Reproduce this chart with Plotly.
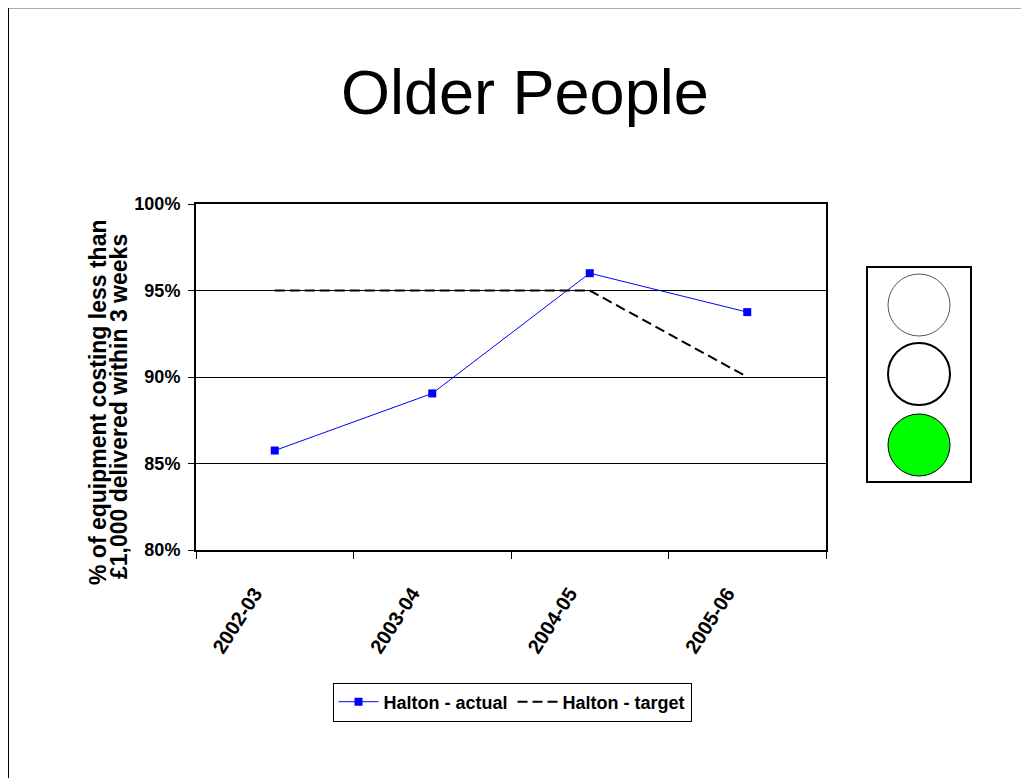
import plotly.graph_objects as go

categories = ["2002-03", "2003-04", "2004-05", "2005-06"]
actual = [85.75, 89.05, 96.0, 93.75]
target = [95.0, 95.0, 95.0, 90.0]
y_ticks = [80, 85, 90, 95, 100]
y_tick_labels = ["80%", "85%", "90%", "95%", "100%"]

OFF = 8  # page body margin
W, H = 1029 - OFF, 778 - OFF
L, R, T, B = 196 - OFF, 826 - OFF, 204 - OFF, 550 - OFF
FONT = "Liberation Sans, Arial, sans-serif"


def px(x):
    # page x -> paper
    return (x - OFF - L) / (R - L)


def py(y):
    # page y -> paper
    return (B - (y - OFF)) / (B - T)


fig = go.Figure()
fig.add_trace(go.Scatter(
    x=categories, y=actual, name="Halton - actual", mode="lines+markers",
    line=dict(color="#0000FF", width=1),
    marker=dict(symbol="square", size=8, color="#0000FF"),
))
fig.add_trace(go.Scatter(
    x=categories, y=target, name="Halton - target", mode="lines",
    line=dict(color="#000000", width=2, dash="10px,5px"),
))

shapes = []
# slide frame (clipped to figure edge)
shapes.append(dict(type="line", xref="paper", yref="paper", x0=px(8), x1=px(1029), y0=py(8.5), y1=py(8.5),
                   line=dict(color="#AAAAAA", width=1)))
shapes.append(dict(type="line", xref="paper", yref="paper", x0=px(8.5), x1=px(8.5), y0=py(8), y1=py(778),
                   line=dict(color="#000000", width=1)))
# traffic light
shapes.append(dict(type="rect", xref="paper", yref="paper", x0=px(867), x1=px(971), y0=py(267), y1=py(482),
                   line=dict(color="#000000", width=2), fillcolor="white"))
circles = [(305, "white", "#555555", 1), (374, "white", "#000000", 2), (445, "#00FF00", "#000000", 1)]
for cy, fill, lc, lw in circles:
    shapes.append(dict(type="circle", xref="paper", yref="paper",
                       x0=px(919 - 31), x1=px(919 + 31), y0=py(cy - 31), y1=py(cy + 31),
                       fillcolor=fill, line=dict(color=lc, width=lw)))

annotations = [
    dict(text="Older People", xref="paper", yref="paper", x=px(525), y=py(92),
         showarrow=False, font=dict(family=FONT, size=63, color="black"),
         xanchor="center", yanchor="middle"),
    dict(text="<b>% of equipment costing less than</b>",
         xref="paper", yref="paper", x=px(98), y=py(403), textangle=-90,
         showarrow=False, font=dict(family=FONT, size=23, color="black"),
         xanchor="center", yanchor="middle"),
    dict(text="<b>£1,000 delivered within 3 weeks</b>",
         xref="paper", yref="paper", x=px(119), y=py(407), textangle=-90,
         showarrow=False, font=dict(family=FONT, size=23, color="black"),
         xanchor="center", yanchor="middle"),
]

fig.update_layout(
    width=W, height=H,
    margin=dict(l=L, r=W - R, t=T, b=H - B, pad=0),
    paper_bgcolor="white", plot_bgcolor="white",
    font=dict(family=FONT, color="black"),
    showlegend=True,
    legend=dict(orientation="h", x=px(512), y=py(702), xanchor="center", yanchor="middle",
                bordercolor="black", borderwidth=1, bgcolor="white",
                font=dict(family=FONT, size=18, color="black", weight="bold"),
                itemwidth=40, tracegroupgap=0),
    shapes=shapes,
    annotations=annotations,
)
fig.update_xaxes(
    type="category", range=[-0.5, 3.5], tickson="boundaries",
    ticks="outside", ticklen=7, tickcolor="black", tickwidth=1,
    showline=True, linecolor="black", linewidth=2, mirror=True,
    showgrid=False, tickangle=-57,
    tickfont=dict(family=FONT, size=20, color="black", weight="bold"),
    ticklabelstandoff=22, ticklabelshift=-20,
)
fig.update_yaxes(
    range=[80, 100], tickvals=y_ticks, ticktext=y_tick_labels,
    ticks="outside", ticklen=6, tickcolor="black",
    showline=True, linecolor="black", linewidth=2, mirror=True,
    showgrid=True, gridcolor="black", gridwidth=1, zeroline=False,
    tickfont=dict(family=FONT, size=18, color="black", weight="bold"),
    ticklabelstandoff=4,
)

fig.write_html("out.html")
